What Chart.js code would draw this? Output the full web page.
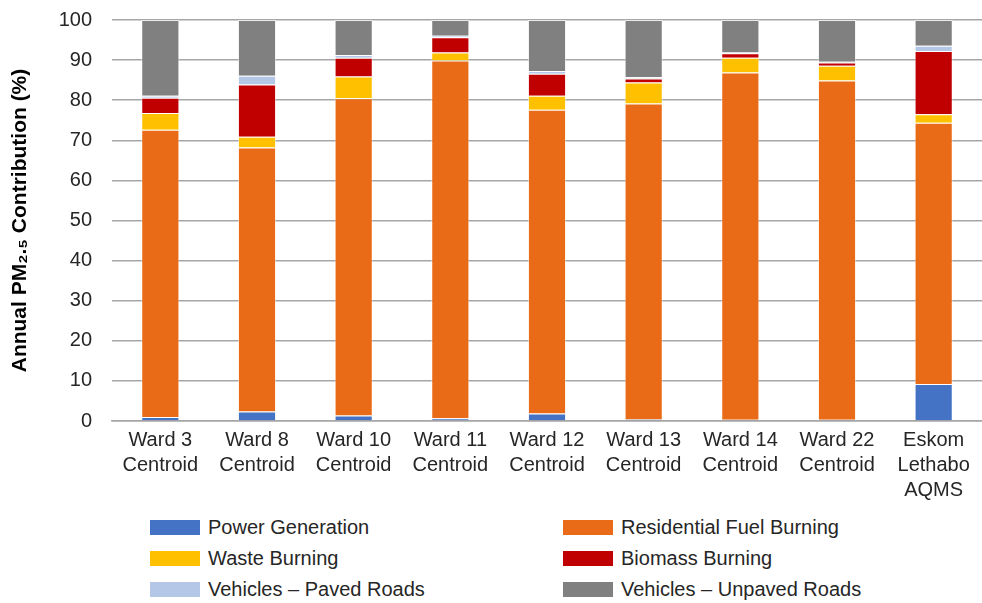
<!DOCTYPE html>
<html>
<head>
    <title>PM2.5 Source Contribution</title>
    <script src="https://cdn.jsdelivr.net/npm/chart.js@4.4.1/dist/chart.umd.min.js"></script>
    <style>
        body { margin: 0; background: #fff; font-family: "Liberation Sans", Arial, sans-serif; }
        #wrap { position: relative; width: 982px; height: 603px; }
        #legend { position: absolute; left: 0; top: 512px; width: 982px; }
        .item { position: absolute; display: flex; align-items: center; font-size: 20px; color: #262626; height: 30px; }
        .box { width: 50px; height: 15px; margin-right: 8px; }
    </style>
</head>
<body>
<div id="wrap">
    <canvas id="chart" width="982" height="505"></canvas>
    <div id="legend"></div>
</div>
<script>
    // sites along the x axis
    var sites = [
        ['Ward 3', 'Centroid'], ['Ward 8', 'Centroid'], ['Ward 10', 'Centroid'],
        ['Ward 11', 'Centroid'], ['Ward 12', 'Centroid'], ['Ward 13', 'Centroid'],
        ['Ward 14', 'Centroid'], ['Ward 22', 'Centroid'], ['Eskom', 'Lethabo', 'AQMS']
    ];

    // contributions in %
    var powerGeneration   = [1.0, 2.4, 1.4, 0.7, 1.9, 0.4, 0.3, 0.3, 9.2];
    var residentialFuel   = [71.6, 65.8, 79.1, 89.2, 75.7, 78.8, 86.6, 84.6, 65.2];
    var wasteBurning      = [4.2, 2.7, 5.4, 2.0, 3.5, 5.2, 3.7, 3.7, 2.1];
    var biomassBurning    = [3.8, 13.0, 4.7, 3.8, 5.5, 1.0, 1.1, 0.8, 15.8];
    var pavedRoads        = [0.5, 2.2, 0.7, 0.4, 0.7, 0.3, 0.2, 0.2, 1.3];
    var unpavedRoads      = [18.9, 13.9, 8.7, 3.9, 12.7, 14.3, 8.1, 10.4, 6.4];

    var yTicks = [0, 10, 20, 30, 40, 50, 60, 70, 80, 90, 100];

    var series = [
        { label: 'Power Generation', data: powerGeneration, color: '#4472C4' },
        { label: 'Residential Fuel Burning', data: residentialFuel, color: '#EA6B17' },
        { label: 'Waste Burning', data: wasteBurning, color: '#FFC000' },
        { label: 'Biomass Burning', data: biomassBurning, color: '#C00000' },
        { label: 'Vehicles \u2013 Paved Roads', data: pavedRoads, color: '#B4C7E7' },
        { label: 'Vehicles \u2013 Unpaved Roads', data: unpavedRoads, color: '#808080' }
    ];

    var ctx = document.getElementById('chart').getContext('2d');
    var chart = new Chart(ctx, {
        type: 'bar',
        data: {
            labels: sites,
            datasets: series.map(function(s) {
                return {
                    label: s.label,
                    data: s.data,
                    backgroundColor: s.color,
                    borderColor: 'rgba(255,255,255,0.55)',
                    borderWidth: 1,
                    categoryPercentage: 1.0,
                    barPercentage: 0.395
                };
            })
        },
        options: {
            responsive: false,
            animation: false,
            layout: { padding: { top: 20, right: 0, bottom: 0, left: 0 } },
            plugins: {
                legend: { display: false },
                tooltip: { enabled: false }
            },
            scales: {
                x: {
                    stacked: true,
                    grid: { display: false, drawTicks: false },
                    border: { display: true, color: '#a6a6a6', width: 1.5 },
                    ticks: {
                        color: '#262626',
                        padding: 7,
                        maxRotation: 0,
                        autoSkip: false,
                        font: { family: 'Liberation Sans', size: 20, lineHeight: 1.25 }
                    },
                    afterFit: function(scale) { scale.height = 84; }
                },
                y: {
                    stacked: true,
                    min: 0,
                    max: 100,
                    afterBuildTicks: function(scale) {
                        scale.ticks = yTicks.map(function(v) { return { value: v }; });
                    },
                    grid: { color: '#a6a6a6', lineWidth: 1.5, drawTicks: false },
                    border: { display: false },
                    ticks: {
                        color: '#262626',
                        padding: 20,
                        font: { family: 'Liberation Sans', size: 20 }
                    },
                    title: {
                        display: true,
                        text: 'Annual PM\u2082.\u2085 Contribution (%)',
                        color: '#000',
                        padding: { top: 8, bottom: 0 },
                        font: { family: 'Liberation Sans', size: 21, weight: 'bold' }
                    },
                    afterFit: function(scale) {
                        scale.width = 112;
                        scale.paddingTop = 0;
                        scale.paddingBottom = 0;
                    }
                }
            }
        }
    });

    // legend in two columns, like the original
    var legend = document.getElementById('legend');
    chart.data.datasets.forEach(function(ds, i) {
        var item = document.createElement('div');
        item.className = 'item';
        item.style.left = (i % 2 === 0 ? 150 : 563) + 'px';
        item.style.top = (Math.floor(i / 2) * 31) + 'px';
        item.innerHTML = '<span class="box" style="background:' + ds.backgroundColor + '"></span>' + ds.label;
        legend.appendChild(item);
    });
</script>
</body>
</html>
